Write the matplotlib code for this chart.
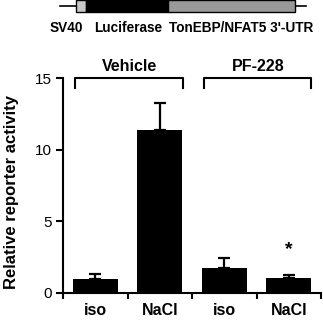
import matplotlib
matplotlib.use('Agg')
import matplotlib.pyplot as plt
from matplotlib.patches import Rectangle

plt.rcParams['font.family'] = ['Liberation Sans', 'DejaVu Sans']

categories = ['iso', 'NaCl', 'iso', 'NaCl']
values = [1.0, 11.35, 1.75, 1.05]
errors = [0.33, 1.9, 0.7, 0.22]
groups = ['Vehicle', 'PF-228']
construct = ['SV40', 'Luciferase', "TonEBP/NFAT5 3'-UTR"]

W, H = 323, 324
fig = plt.figure(figsize=(W / 100, H / 100), dpi=100)

# schematic of the reporter construct, in pixel coords
top = fig.add_axes([0, 0, 1, 1])
top.set_xlim(0, W)
top.set_ylim(H, 0)
top.axis('off')
top.plot([60, 306], [6, 6], color='black', lw=1.2, zorder=1)
top.add_patch(Rectangle((76, 0), 10, 12, facecolor='#c8c8c8', edgecolor='black', lw=1, zorder=2))
top.add_patch(Rectangle((86, 0), 82, 12, facecolor='black', edgecolor='black', lw=1, zorder=2))
top.add_patch(Rectangle((168, 0), 127, 12, facecolor='#999999', edgecolor='black', lw=1, zorder=2))
for label, xc in zip(construct, [66, 128, 241]):
    top.text(xc, 28, label, ha='center', va='center', fontsize=9.8, fontweight='bold')

ax = fig.add_axes([63 / W, (H - 293) / H, (321 - 63) / W, (293 - 78) / H])
x = list(range(len(values)))
ax.bar(x, values, width=0.7, color='black', zorder=2)
ax.errorbar(x, values, yerr=[[0] * len(errors), errors], fmt='none', ecolor='black',
            elinewidth=1.6, capsize=4, capthick=1.6, zorder=1)

ax.set_xlim(-0.5, 3.5)
ax.set_ylim(0, 15)
ax.set_yticks([0, 5, 10, 15])
ax.set_xticks([-0.5, 0.5, 1.5, 2.5, 3.5])
ax.set_xticklabels([])
ax.set_xticks(x, minor=True)
ax.set_xticklabels(categories, minor=True, fontsize=11.5, fontweight='bold')
ax.tick_params(axis='x', which='minor', length=0, pad=7)
ax.tick_params(axis='x', which='major', length=4.5, width=1.5, direction='out')
ax.tick_params(axis='y', length=5, width=1.5, labelsize=11, pad=3)
for s in ['top', 'right']:
    ax.spines[s].set_visible(False)
for s in ['left', 'bottom']:
    ax.spines[s].set_linewidth(1.5)
ax.set_ylabel('Relative reporter activity', fontsize=12, fontweight='bold')
ax.yaxis.set_label_coords(-0.172, 0.47)

# group brackets
for (x0, x1), lx, name in zip([(-0.32, 1.36), (1.68, 3.34)], [0.53, 2.53], groups):
    ax.plot([x0, x0, x1, x1], [14.3, 15.0, 15.0, 14.3], color='black', lw=1.5, clip_on=False)
    ax.text(lx, 15.8, name, ha='center', va='center', fontsize=11.5, fontweight='bold')

ax.text(3, 3.0, '*', ha='center', va='center', fontsize=14, fontweight='bold')

fig.savefig('out.png', dpi=100)
